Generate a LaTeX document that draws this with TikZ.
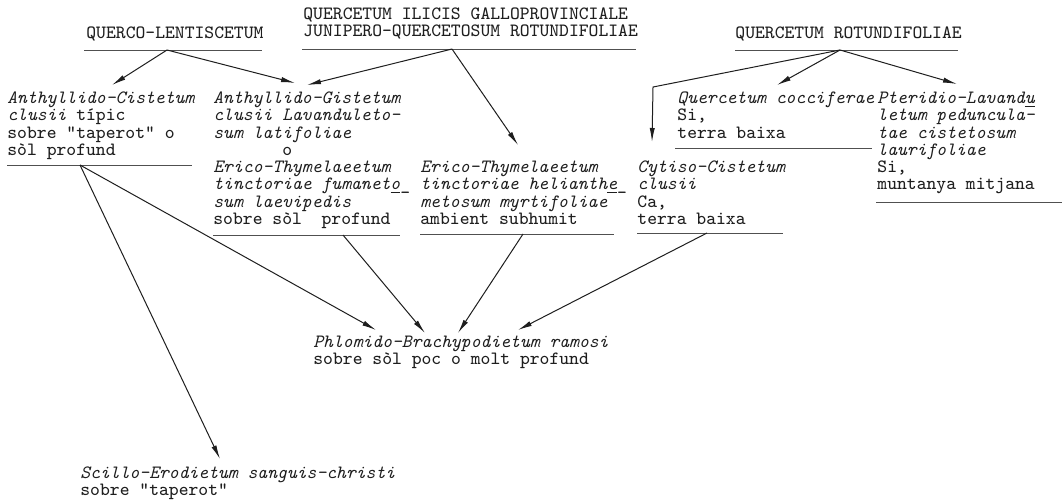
\documentclass[tikz,border=0pt]{standalone}
\usepackage{fontspec}
\usetikzlibrary{arrows.meta}
\definecolor{ink}{HTML}{1E1E1E}
\definecolor{rulecol}{HTML}{505050}
\newcommand{\ms}{\rule{0pt}{7pt}}
\newcommand{\hyph}{\rlap{\smash{\raisebox{-0.45em}{-}}}}
\begin{document}
\begin{tikzpicture}[x=0.5pt,y=-0.5pt,
  txt/.style={anchor=north west,inner sep=0pt,align=left,text=ink,font=\ttfamily\fontsize{9.37}{8.65}\selectfont},
  uline/.style={draw=rulecol,line width=0.45pt},
  arr/.style={draw=ink,line width=0.5pt,-{Latex[length=7pt,width=2.6pt]}}]
\fill[white] (0,0) rectangle (1063,499);
\useasboundingbox (0,0) rectangle (1063,499);

% headers
\node[txt] (ql) at (86,24) {\ms QUERCO-LENTISCETUM};
\node[txt] (qi) at (303,5) {\ms QUERCETUM ILICIS GALLOPROVINCIALE\\JUNIPERO-QUERCETOSUM ROTUNDIFOLIAE};
\node[txt] (qr) at (735,24) {\ms QUERCETUM ROTUNDIFOLIAE};

% blocks
\node[txt] (a) at (7,89) {\ms\textit{Anthyllido-Cistetum}\\\textit{clusii} típic\\sobre "taperot" o\\sòl profund};
\node[txt] (b) at (213,89) {\ms\textit{Anthyllido-Gistetum}\\\textit{clusii Lavanduleto-}\\\textit{sum latifoliae}\\\hphantom{0000000}o\\\textit{Erico-Thymelaeetum}\\\textit{tinctoriae fumanet\underline{o}}\hyph\\\textit{sum laevipedis}\\sobre sòl~~profund};
\node[txt] (c) at (420,158) {\ms\textit{Erico-Thymelaeetum}\\\textit{tinctoriae helianth\underline{e}}\hyph\\\textit{metosum myrtifoliae}\\ambient subhumit};
\node[txt] (d) at (677,89) {\ms\textit{Quercetum cocciferae}\\Si,\\terra baixa};
\node[txt] (e) at (877,89) {\ms\textit{Pteridio-Lavand\underline{u}}\\\textit{letum peduncula-}\\\textit{tae cistetosum}\\\textit{laurifoliae}\\Si,\\muntanya mitjana};
\node[txt] (f) at (637,158) {\ms\textit{Cytiso-Cistetum}\\\textit{clusii}\\Ca,\\terra baixa};
\node[txt] (ph) at (313,333) {\ms\textit{Phlomido-Brachypodietum ramosi}\\sobre sòl poc o molt profund};
\node[txt] (sc) at (80,464) {\ms\textit{Scillo-Erodietum sanguis-christi}\\sobre "taperot"};

% underlines
\draw[uline] (84,50) -- (262,50);
\draw[uline] (302,49) -- (636,49);
\draw[uline] (735,50) -- (958,50);
\draw[uline] (7,165) -- (192,165);
\draw[uline] (213,235) -- (400,235);
\draw[uline] (420,234) -- (614,234);
\draw[uline] (675,148) -- (872,148);
\draw[uline] (876,202) -- (1062,202);
\draw[uline] (637,233) -- (783,233);

% connector ends
\coordinate (oql) at (167,50);
\coordinate (oqi) at (452,49);
\coordinate (oqr) at (840,50);
\coordinate (oa) at (80,165);
\coordinate (ob) at (343,235);
\coordinate (oc) at (523,234);
\coordinate (of) at (707,233);
\coordinate (ta) at (112,85);
\coordinate (tb1) at (295,83);
\coordinate (tb2) at (307,85);
\coordinate (tc) at (518,145);
\coordinate (kf) at (653,87);
\coordinate (tf) at (652,142);
\coordinate (td) at (777,85);
\coordinate (te) at (957,84);
\coordinate (tp1) at (376,330);
\coordinate (tp2) at (425,333);
\coordinate (tp3) at (458,333);
\coordinate (tp4) at (518,330);
\coordinate (tsc) at (220,459);

% connectors
\draw[arr] (oql) -- (ta);
\draw[arr] (oql) -- (tb1);
\draw[arr] (oqi) -- (tb2);
\draw[arr] (oqi) -- (tc);
\draw[arr] (oqr) -- (kf) -- (tf);
\draw[arr] (oqr) -- (td);
\draw[arr] (oqr) -- (te);
\draw[arr] (oa) -- (tp1);
\draw[arr] (oa) -- (tsc);
\draw[arr] (ob) -- (tp2);
\draw[arr] (oc) -- (tp3);
\draw[arr] (of) -- (tp4);
\end{tikzpicture}
\end{document}
